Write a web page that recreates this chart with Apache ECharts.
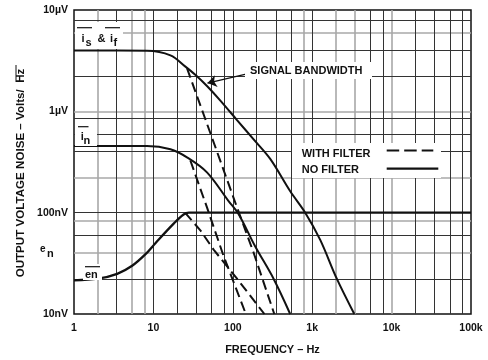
<!DOCTYPE html>
<html>
<head>
<meta charset="utf-8">
<script src="https://cdn.jsdelivr.net/npm/echarts@6/dist/echarts.min.js"></script>
<style>
  html, body { margin: 0; background: #fff; }
  #chart { width: 488px; height: 360px; }
</style>
</head>
<body>
<div id="chart"></div>
<script>
// values: frequency in Hz, noise in nV/√Hz
const xTickLabels = ['1', '10', '100', '1k', '10k', '100k']
const yTickLabels = ['10nV', '100nV', '1µV', '10µV']

const isFreq = [1, 8.3, 16.4, 25.3, 33.7, 47.3, 69.7, 113, 183, 296, 529, 817, 1262, 2040, 3390]
const isNoFilter = [3990, 3960, 3567, 2762, 2296, 1778, 1277, 820, 528, 339, 162.5, 100, 53.9, 22.3, 10]
const isFiltFreq = [26.5, 52.1, 113, 183, 333]
const isFilter = [2660, 611, 112.6, 40.2, 10]

const inFreq = [1, 8.3, 16.4, 26.5, 47.3, 88.5, 118, 191, 326, 528]
const inNoFilter = [455, 455, 423, 352, 250, 130, 97, 46.6, 22.3, 10]
const inFiltFreq = [29.2, 47.3, 76.6, 146]
const inFilter = [327, 112.6, 37.3, 10]

const enFreq = [1, 2, 3.5, 5.4, 7.9, 10.6, 18, 24, 28, 100000]
const enNoFilter = [21.5, 22.3, 24.9, 29.9, 38.7, 50, 77.9, 96, 100, 100]
const enFiltFreq = [25, 39, 57.3, 113, 250]
const enFilter = [100, 67, 43.2, 22.3, 10]

// the printed graph paper: dark and grey rulings
const xGridDark = [3.45, 10, 20, 34.5, 54, 78, 100, 200, 350, 550, 1000, 5400, 7800, 20000, 34500, 54000, 78000]
const xGridGray = [2, 5.4, 7.7, 780, 2000, 3400, 10000]
const yGridDark = [8000, 4000, 2200, 860, 600, 400, 100, 60, 22]
const yGridGray = [6000, 1000, 220, 84, 40]

const INK = '#111'
const FONT = '"Liberation Sans", Arial, sans-serif'
const DARK = { color: '#333', width: 1, type: 'solid' }
const GRAY = { color: '#a8a8a8', width: 1.6, type: 'solid' }

const zip = (xs, ys) => xs.map((x, i) => [x, ys[i]])
const exp = v => Math.round(Math.log10(v))

const gridLines = [
  ...xGridGray.map(v => ({ xAxis: v, lineStyle: GRAY })),
  ...yGridGray.map(v => ({ yAxis: v, lineStyle: GRAY })),
  ...xGridDark.map(v => ({ xAxis: v, lineStyle: DARK })),
  ...yGridDark.map(v => ({ yAxis: v, lineStyle: DARK }))
]

const solid = { color: INK, width: 2, type: 'solid' }
const dashed = { color: INK, width: 2, type: [10, 5] }

function curve(name, data, lineStyle, smooth) {
  return {
    name, type: 'line', data, smooth, showSymbol: false, symbol: 'none',
    lineStyle, z: 5, silent: true, animation: false
  }
}

const txt = (text, x, y, extra) => ({
  type: 'text', x, y, z: 60,
  style: Object.assign({ text, fill: INK, font: 'bold 11px ' + FONT, align: 'left', verticalAlign: 'middle' }, extra || {})
})
const box = (x, y, width, height) => ({ type: 'rect', z: 50, shape: { x, y, width, height }, style: { fill: '#fff' } })
const seg = (x1, y1, x2, y2, extra) => ({
  type: 'line', z: 60, shape: { x1, y1, x2, y2 },
  style: Object.assign({ stroke: INK, lineWidth: 1.2 }, extra || {})
})

const yTitle = txt('OUTPUT VOLTAGE NOISE – Volts/  Hz', 21, 173, { align: 'center', font: 'bold 11.6px ' + FONT })
yTitle.rotation = Math.PI / 2

const chart = echarts.init(document.getElementById('chart'))
chart.setOption({
  animation: false,
  backgroundColor: '#fff',
  grid: { left: 74, right: 17, top: 10, bottom: 37, show: true, borderColor: INK, borderWidth: 1.5, backgroundColor: '#fff' },
  xAxis: {
    type: 'log', logBase: 10, min: 1, max: 100000,
    name: 'FREQUENCY – Hz', nameLocation: 'middle', nameGap: 30,
    nameTextStyle: { color: INK, fontWeight: 'bold', fontSize: 11, fontFamily: FONT },
    axisLine: { show: false }, axisTick: { show: false }, splitLine: { show: false },
    axisLabel: { color: INK, fontWeight: 'bold', fontSize: 10.5, fontFamily: FONT, margin: 9,
      formatter: v => xTickLabels[exp(v)] }
  },
  yAxis: {
    type: 'log', logBase: 10, min: 10, max: 10000,
    axisLine: { show: false }, axisTick: { show: false }, splitLine: { show: false },
    axisLabel: { color: INK, fontWeight: 'bold', fontSize: 10.5, fontFamily: FONT, margin: 6,
      padding: [7, 0, 0, 0], formatter: v => yTickLabels[exp(v) - 1] }
  },
  series: [
    {
      name: 'grid', type: 'line', data: [[1, 10]], symbol: 'none', silent: true, z: 1,
      markLine: { silent: true, symbol: ['none', 'none'], label: { show: false }, animation: false, data: gridLines }
    },
    Object.assign(curve('is & if', zip(isFreq, isNoFilter), solid, 0.35), {
      markLine: {
        silent: true, symbol: ['none', 'arrow'], symbolSize: 9, animation: false,
        label: { show: false }, lineStyle: { color: INK, width: 1.2, type: 'solid' },
        data: [[{ coord: [166, 2383] }, { coord: [48, 1900] }]]
      }
    }),
    curve('is & if filtered', zip(isFiltFreq, isFilter), dashed, false),
    curve('in', zip(inFreq, inNoFilter), solid, 0.35),
    curve('in filtered', zip(inFiltFreq, inFilter), dashed, false),
    curve('en', zip(enFreq, enNoFilter), Object.assign({}, solid, { width: 2.3 }), 0.35),
    curve('en filtered', zip(enFiltFreq, enFilter), dashed, false)
  ],
  graphic: [
    // y axis title, rotated, with the bar over Hz
    yTitle,
    seg(16, 65, 16, 82, { lineWidth: 1 }),
    // curve labels
    box(75, 22, 48, 27),
    seg(77, 27.7, 92, 27.7), seg(105, 27.7, 120, 27.7),
    txt('i', 81.5, 39), txt('s', 85.5, 42.5),
    txt('&', 97.5, 39),
    txt('i', 110, 39), txt('f', 113.5, 43),
    box(75, 125, 22, 21),
    seg(78, 126.7, 88.5, 126.7),
    txt('i', 80.8, 137), txt('n', 83.5, 140.5),
    box(83, 264, 19, 16),
    seg(85, 266.7, 100, 266.7),
    txt('en', 85, 274.5),
    txt('e', 40, 249.5, { font: 'bold 10px ' + FONT }), txt('n', 47, 253.5),
    // signal bandwidth callout
    box(245, 62, 127, 17),
    txt('SIGNAL BANDWIDTH', 250, 70.5),
    // legend
    box(292, 143, 149, 35),
    txt('WITH FILTER', 301.7, 153.5),
    seg(386.7, 150.5, 433.3, 150.5, { lineWidth: 2, lineDash: [12.5, 5] }),
    txt('NO FILTER', 301.7, 170),
    seg(386.7, 168.7, 438.3, 168.7, { lineWidth: 2.2 })
  ]
})
</script>
</body>
</html>
